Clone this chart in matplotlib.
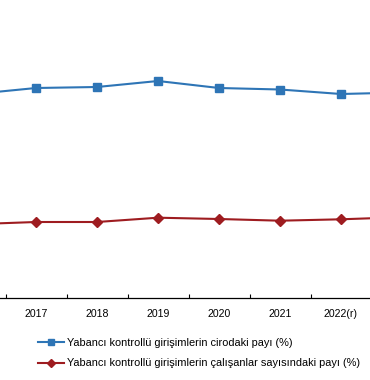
import matplotlib
matplotlib.use("Agg")
import matplotlib.pyplot as plt
import numpy as np

years = ["2016", "2017", "2018", "2019", "2020", "2021", "2022(r)", "2023"]
turnover_share = [20.4, 21.0, 21.1, 21.7, 21.0, 20.85, 20.4, 20.55]
employment_share = [7.38, 7.6, 7.6, 8.03, 7.9, 7.73, 7.87, 8.08]

plt.rcParams['font.family'] = ['Liberation Sans', 'DejaVu Sans']

fig = plt.figure(figsize=(3.7, 3.8), dpi=100)
ax = fig.add_axes([0, 82/380, 1, 298/380])

x = np.arange(len(years))
blue = "#2E75B6"
red = "#9E1C20"
ax.plot(x, turnover_share, color=blue, lw=1.5, marker="s", ms=5.5,
        markeredgecolor=blue, label="Yabancı kontrollü girişimlerin cirodaki payı (%)")
ax.plot(x, employment_share, color=red, lw=1.5, marker="D", ms=5.2,
        markeredgecolor=red, label="Yabancı kontrollü girişimlerin çalışanlar sayısındaki payı (%)")

for s in ["left", "right", "top"]:
    ax.spines[s].set_visible(False)
ax.spines["bottom"].set_color("black")
ax.spines["bottom"].set_linewidth(0.9)

ax.set_yticks([])
ax.set_xticks(x)
ax.set_xticklabels(years, fontsize=7.6)
ax.set_xticks(x + 0.5, minor=True)
ax.tick_params(axis="x", which="major", length=0, pad=8)
ax.tick_params(axis="x", which="minor", direction="in", length=3, width=0.8, color="black")

ax.set_xlim(1 - 36/61, 1 + 334/61)
ax.set_ylim(0, 29.8)

leg = fig.legend(loc="upper left", bbox_to_anchor=(38/370, 1 - 338/380), frameon=False,
                 fontsize=7.9, handlelength=2.4, handletextpad=0.2, labelspacing=0.95,
                 borderaxespad=0, borderpad=0, markerscale=0.8)

fig.savefig("out.png", dpi=100)
